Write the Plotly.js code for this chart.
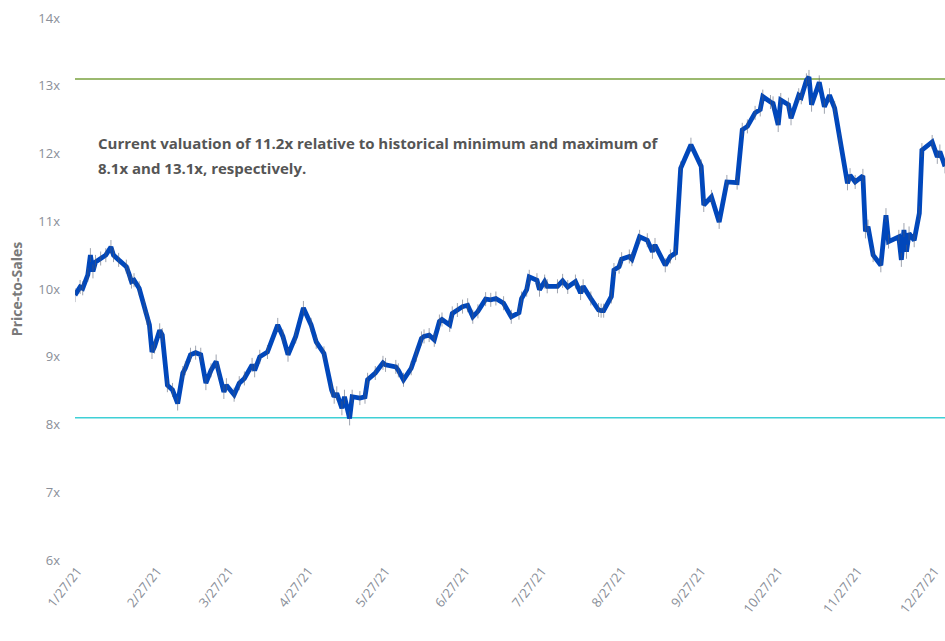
<!DOCTYPE html>
<html>
<head>
<meta charset="utf-8">
<script src="https://cdn.plot.ly/plotly-3.0.1.min.js"></script>
<style>
html,body{margin:0;padding:0;background:#fff;}
#chart{width:945px;height:641px;}
</style>
</head>
<body>
<div id="chart"></div>
<script>
const dates = [
"2021-01-26","2021-01-28","2021-01-29","2021-01-31","2021-02-01","2021-02-02","2021-02-03","2021-02-05","2021-02-07","2021-02-09",
"2021-02-10","2021-02-12","2021-02-15","2021-02-16","2021-02-17","2021-02-18","2021-02-20","2021-02-22","2021-02-23","2021-02-24",
"2021-02-25","2021-02-26","2021-02-28","2021-03-01","2021-03-03","2021-03-05","2021-03-07","2021-03-09","2021-03-10","2021-03-12",
"2021-03-14","2021-03-16","2021-03-18","2021-03-20","2021-03-22","2021-03-23","2021-03-25","2021-03-26","2021-03-29","2021-03-31",
"2021-04-02","2021-04-05","2021-04-06","2021-04-08","2021-04-11","2021-04-15","2021-04-17","2021-04-19","2021-04-22","2021-04-25",
"2021-04-28","2021-04-30","2021-05-03","2021-05-06","2021-05-07","2021-05-08","2021-05-10","2021-05-11","2021-05-13","2021-05-14",
"2021-05-17","2021-05-19","2021-05-20","2021-05-23","2021-05-26","2021-05-27","2021-05-31","2021-06-01","2021-06-03","2021-06-06",
"2021-06-08","2021-06-10","2021-06-11","2021-06-13","2021-06-15","2021-06-17","2021-06-18","2021-06-21","2021-06-22","2021-06-24",
"2021-06-26","2021-06-28","2021-06-30","2021-07-02","2021-07-05","2021-07-07","2021-07-09","2021-07-12","2021-07-15","2021-07-18",
"2021-07-19","2021-07-21","2021-07-22","2021-07-25","2021-07-26","2021-07-28","2021-07-29","2021-08-02","2021-08-04","2021-08-06",
"2021-08-09","2021-08-11","2021-08-12","2021-08-15","2021-08-18","2021-08-19","2021-08-20","2021-08-23","2021-08-24","2021-08-26",
"2021-08-27","2021-08-30","2021-08-31","2021-09-03","2021-09-06","2021-09-08","2021-09-09","2021-09-13","2021-09-15","2021-09-17",
"2021-09-19","2021-09-23","2021-09-27","2021-09-28","2021-10-01","2021-10-04","2021-10-07","2021-10-11","2021-10-13","2021-10-15",
"2021-10-18","2021-10-20","2021-10-21","2021-10-24","2021-10-25","2021-10-27","2021-10-28","2021-10-31","2021-11-01","2021-11-04",
"2021-11-05","2021-11-07","2021-11-08","2021-11-09","2021-11-12","2021-11-14","2021-11-16","2021-11-18","2021-11-20","2021-11-23",
"2021-11-24","2021-11-26","2021-11-29","2021-11-30","2021-12-01","2021-12-03","2021-12-06","2021-12-08","2021-12-09","2021-12-13",
"2021-12-14","2021-12-15","2021-12-16","2021-12-17","2021-12-19","2021-12-21","2021-12-22","2021-12-26","2021-12-28","2021-12-29",
"2021-12-31"
];
const priceToSales = [
9.91,10.03,10.01,10.21,10.50,10.26,10.40,10.45,10.50,10.62,
10.50,10.43,10.33,10.23,10.11,10.13,10.01,9.74,9.57,9.47,
9.07,9.15,9.39,9.32,8.58,8.51,8.31,8.76,8.83,9.03,
9.06,9.03,8.61,8.80,8.93,8.78,8.48,8.58,8.44,8.61,
8.68,8.88,8.80,9.00,9.07,9.47,9.30,9.03,9.30,9.72,
9.47,9.22,9.05,8.51,8.41,8.46,8.24,8.41,8.09,8.41,
8.39,8.41,8.66,8.76,8.91,8.88,8.85,8.80,8.66,8.83,
9.03,9.27,9.30,9.32,9.25,9.52,9.55,9.47,9.64,9.69,
9.74,9.76,9.59,9.67,9.85,9.84,9.86,9.79,9.59,9.65,
9.86,9.99,10.18,10.13,9.99,10.11,10.04,10.04,10.12,10.03,
10.11,9.94,10.04,9.86,9.69,9.68,9.68,9.89,10.28,10.33,
10.44,10.48,10.44,10.77,10.72,10.55,10.65,10.35,10.48,10.53,
11.78,12.13,11.81,11.24,11.36,10.99,11.58,11.57,12.35,12.40,
12.60,12.65,12.84,12.76,12.74,12.42,12.79,12.72,12.52,12.86,
12.83,13.08,13.13,12.72,13.05,12.69,12.86,12.67,12.20,11.56,
11.68,11.58,11.67,10.85,10.92,10.50,10.35,11.09,10.70,10.77,
10.43,10.87,10.55,10.82,10.72,11.12,12.05,12.17,11.95,12.03,
11.81
];
const historicalMax = 13.1;
const historicalMin = 8.1;
const xTickVals = ["2021-01-27","2021-02-27","2021-03-27","2021-04-27","2021-05-27","2021-06-27",
                   "2021-07-27","2021-08-27","2021-09-27","2021-10-27","2021-11-27","2021-12-27"];
const xTickText = ["1/27/21","2/27/21","3/27/21","4/27/21","5/27/21","6/27/21",
                   "7/27/21","8/27/21","9/27/21","10/27/21","11/27/21","12/27/21"];
const yTickVals = [6,7,8,9,10,11,12,13,14];
const yTickText = ["6x","7x","8x","9x","10x","11x","12x","13x","14x"];
const noteLine1 = "Current valuation of 11.2x relative to historical minimum and maximum of";
const noteLine2 = "8.1x and 13.1x, respectively.";

const xStart = "2021-01-26", xEnd = "2021-12-31";

const traces = [
  {x:[xStart,xEnd], y:[historicalMax,historicalMax], mode:"lines",
   line:{color:"#7aa23f", width:1.5}, hoverinfo:"skip", showlegend:false},
  {x:[xStart,xEnd], y:[historicalMin,historicalMin], mode:"lines",
   line:{color:"#3fd0d6", width:1.5}, hoverinfo:"skip", showlegend:false},
  {x:dates, y:priceToSales, mode:"lines+markers",
   line:{color:"#0047bb", width:4.8, shape:"linear"},
   marker:{symbol:"line-ns", size:10, color:"rgba(80,90,110,0.55)",
           line:{width:1, color:"rgba(80,90,110,0.55)"}},
   showlegend:false}
];

const noteFont = {family:"Open Sans, sans-serif", size:15, color:"#555555"};
const layout = {
  width:945, height:641,
  margin:{l:75, r:0, t:18, b:81},
  paper_bgcolor:"#fff", plot_bgcolor:"#fff",
  font:{family:"Open Sans, sans-serif", color:"#7f7f7f"},
  xaxis:{type:"date", range:[xStart,xEnd], tickvals:xTickVals, ticktext:xTickText,
         tickangle:-52, tickfont:{size:13, color:"#8a8f99"}, showgrid:false,
         zeroline:false, showline:false, ticks:"", fixedrange:true},
  yaxis:{range:[6,14], tickvals:yTickVals, ticktext:yTickText,
         tickfont:{size:13, color:"#8a8f99"}, showgrid:false, zeroline:false,
         showline:false, ticks:"", ticklabelstandoff:14,
         title:{text:"<b>Price-to-Sales</b>", font:{size:14, color:"#7a7a7a"}, standoff:12}},
  annotations:[
    {xref:"paper", yref:"paper", x:0.024, y:(560-143)/542, xanchor:"left", yanchor:"middle",
     text:"<b>"+noteLine1+"</b>", showarrow:false, align:"left", font:noteFont},
    {xref:"paper", yref:"paper", x:0.024, y:(560-168)/542, xanchor:"left", yanchor:"middle",
     text:"<b>"+noteLine2+"</b>", showarrow:false, align:"left", font:noteFont}
  ]
};
Plotly.newPlot("chart", traces, layout, {displayModeBar:false, staticPlot:true});
</script>
</body>
</html>
